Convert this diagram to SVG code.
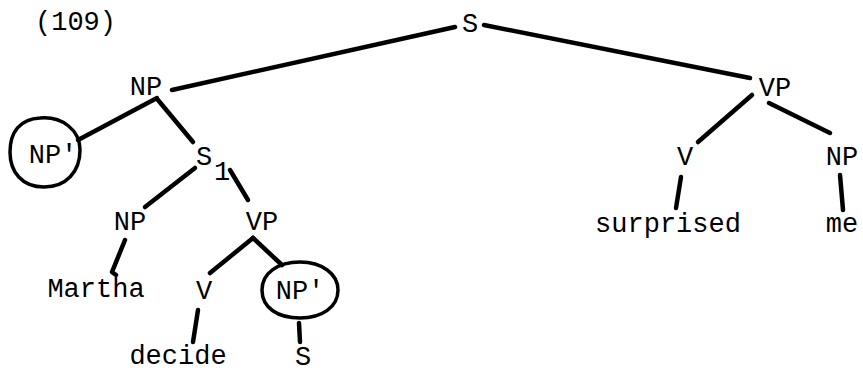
<svg xmlns="http://www.w3.org/2000/svg" width="863" height="372" viewBox="0 0 863 372">
<style>
text{font-family:"Liberation Mono","DejaVu Sans Mono",monospace;font-size:27px;fill:#000;text-anchor:middle}
.e{fill:none;stroke:#000;stroke-width:4.5;stroke-linecap:round;stroke-linejoin:round}
.c{fill:none;stroke:#000;stroke-width:3.5}
</style>
<rect width="863" height="372" fill="#fff"/>
<text x="35" y="30" style="text-anchor:start">(109)</text>
<g id="connectors">
<path class="e" d="M455 27 L172 90"/>
<path class="e" d="M484 25 L750 78"/>
<path class="e" d="M752 95 L698 142"/>
<path class="e" d="M769 103 L830 133"/>
<path class="e" d="M681 177 L676 208"/>
<path class="e" d="M840 175 L843 210"/>
<path class="e" d="M157 98 L78 140"/>
<path class="e" d="M158 100 L193 142"/>
<path class="e" d="M195 168 L145 207"/>
<path class="e" d="M230 170 L248 200"/>
<path class="e" d="M125 240 L112 272 L116 275"/>
<path class="e" d="M253 238 L210 273"/>
<path class="e" d="M253 238 L282 265"/>
<path class="e" d="M198 310 L193 342"/>
<path class="e" d="M299 323 L300 342"/>
</g>
<g id="n-S"><text x="470" y="32">S</text></g>
<g id="n-NP1"><text x="146" y="95">NP</text></g>
<g id="n-NPc1"><path class="c" d="M40 118 C62 116 80 130 80 150 C80 172 66 187 44 187 C22 187 10 172 10 152 C10 132 20 119 40 118 Z"/><text x="53" y="163">NP'</text></g>
<g id="n-S1"><text x="204" y="165">S</text><text x="222" y="180">1</text></g>
<g id="n-NP2"><text x="130" y="230">NP</text></g>
<g id="n-VP2"><text x="262" y="230">VP</text></g>
<g id="n-Martha"><text x="96" y="297">Martha</text></g>
<g id="n-V2"><text x="204" y="299">V</text></g>
<g id="n-NPc2"><path class="c" d="M300 262 C322 262 338 274 338 290 C338 307 322 318 300 318 C278 318 262 308 262 290 C262 273 278 262 300 262 Z"/><text x="300" y="299">NP'</text></g>
<g id="n-decide"><text x="178" y="364">decide</text></g>
<g id="n-S3"><text x="303" y="365">S</text></g>
<g id="n-VP1"><text x="775" y="96">VP</text></g>
<g id="n-V1"><text x="685" y="165">V</text></g>
<g id="n-NP3"><text x="842" y="165">NP</text></g>
<g id="n-surprised"><text x="668" y="232">surprised</text></g>
<g id="n-me"><text x="842" y="232">me</text></g>
</svg>
